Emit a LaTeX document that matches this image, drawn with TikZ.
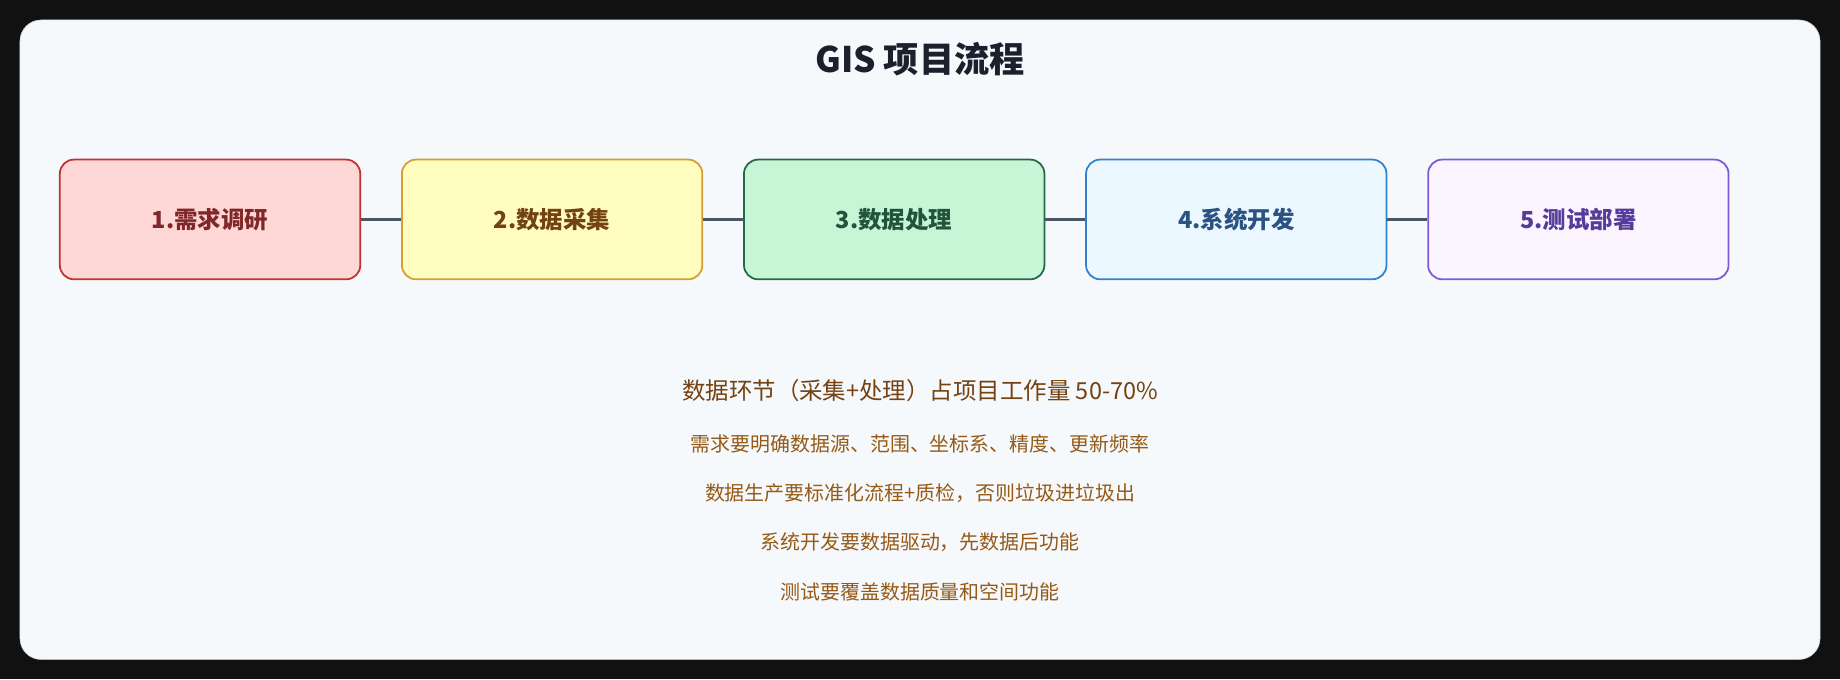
\documentclass[tikz,border=0pt]{standalone}
\usepackage{fontspec}
\setmainfont{Noto Sans CJK SC}
\usetikzlibrary{positioning}
\definecolor{pagebg}{HTML}{111111}
\definecolor{cardbg}{HTML}{F5F9FC}
\definecolor{linkc}{HTML}{4A5568}
\definecolor{titlec}{HTML}{1A202C}
\definecolor{noteA}{HTML}{744210}
\definecolor{noteB}{HTML}{975A16}
\definecolor{redD}{HTML}{C53030}\definecolor{redF}{HTML}{FED7D7}\definecolor{redT}{HTML}{822727}
\definecolor{yelD}{HTML}{D69E2E}\definecolor{yelF}{HTML}{FEFCBF}\definecolor{yelT}{HTML}{744210}
\definecolor{grnD}{HTML}{276749}\definecolor{grnF}{HTML}{C6F6D5}\definecolor{grnT}{HTML}{22543D}
\definecolor{bluD}{HTML}{3182CE}\definecolor{bluF}{HTML}{EBF8FF}\definecolor{bluT}{HTML}{2C5282}
\definecolor{purD}{HTML}{805AD5}\definecolor{purF}{HTML}{FAF5FF}\definecolor{purT}{HTML}{553C9A}
\tikzset{
  stage/.style={draw=#1D, fill=#1F, text=#1T, line width=1.5pt, rounded corners=12pt,
    minimum width=256pt, minimum height=102pt, font=\fontsize{20}{24}\selectfont\bfseries},
  link/.style={draw=linkc, line width=3pt},
  note/.style={font=\fontsize{17}{20}\selectfont, text=noteB}
}
\begin{document}
\begin{tikzpicture}[x=1pt,y=-1pt]
\useasboundingbox (0,0) rectangle (1568,579);
\fill[pagebg] (0,0) rectangle (1568,579);
\draw[fill=cardbg, draw=gray!40, rounded corners=18pt] (17,17) rectangle (1551,562);
% title
\node[font=\fontsize{30}{34}\selectfont\bfseries, text=titlec] (title) at (784,50) {GIS 项目流程};
% stages
\node[stage=red] (s1) at (179,187) {1.需求调研};
\node[stage=yel, right=34pt of s1] (s2) {2.数据采集};
\node[stage=grn, right=34pt of s2] (s3) {3.数据处理};
\node[stage=blu, right=34pt of s3] (s4) {4.系统开发};
\node[stage=pur, right=34pt of s4] (s5) {5.测试部署};
\foreach \a/\b in {s1/s2,s2/s3,s3/s4,s4/s5}
  \draw[link] (\a) -- (\b);
% notes
\node[font=\fontsize{20}{24}\selectfont, text=noteA] (n0) at (784,333) {数据环节（采集+处理）占项目工作量 50-70\%};
\node[note] (n1) at (784,378) {需求要明确数据源、范围、坐标系、精度、更新频率};
\node[note] (n2) at (784,420) {数据生产要标准化流程+质检，否则垃圾进垃圾出};
\node[note] (n3) at (784,462) {系统开发要数据驱动，先数据后功能};
\node[note] (n4) at (784,504) {测试要覆盖数据质量和空间功能};
\end{tikzpicture}
\end{document}
